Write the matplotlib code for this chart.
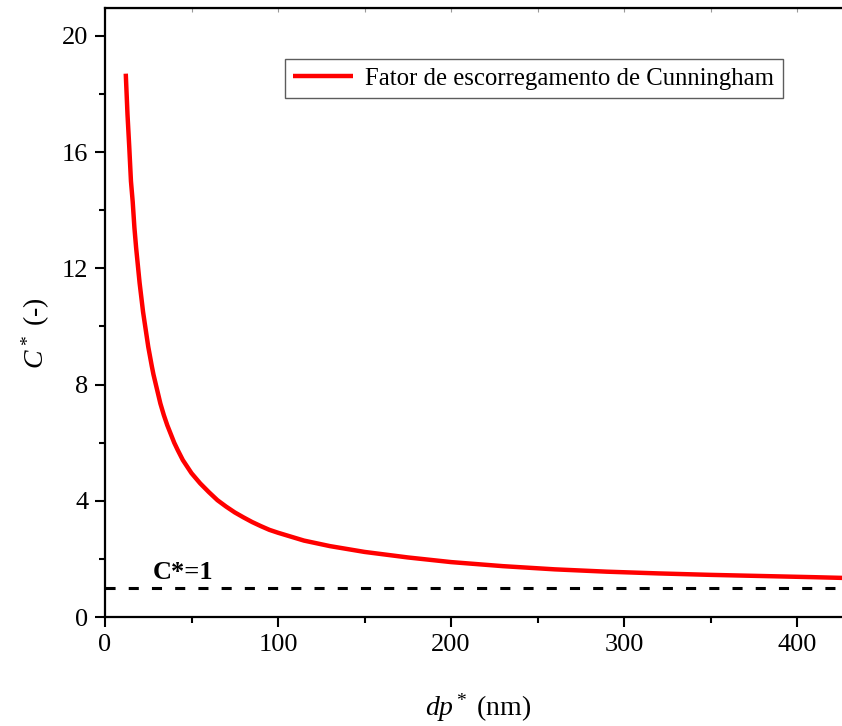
import matplotlib
matplotlib.use("Agg")
import matplotlib.pyplot as plt
from matplotlib.ticker import MultipleLocator

# Datos (diametro de particula em nm, fator de Cunningham)
dp = [12, 13, 14, 15, 16, 17, 18, 19, 20, 21, 22, 23, 25, 27, 28, 30, 32,
      34, 36, 38, 40, 42, 45, 50, 55, 60, 65, 70, 75, 80, 85, 90, 95,
      100, 115, 130, 150, 175, 200, 230, 260, 290, 320, 350, 380, 410, 430]
cc = [18.7, 17.3, 16.2, 15.0, 14.3, 13.4, 12.7, 12.1, 11.5, 11.0, 10.5,
      10.1, 9.3, 8.65, 8.35, 7.85, 7.35, 6.95, 6.6, 6.3, 6.0, 5.75, 5.4,
      4.95, 4.6, 4.3, 4.02, 3.8, 3.6, 3.43, 3.27, 3.13, 3.0, 2.9, 2.63,
      2.44, 2.24, 2.05, 1.89, 1.75, 1.64, 1.56, 1.5, 1.45, 1.41, 1.37, 1.34]
linha_ref = 1.0
legenda = "Fator de escorregamento de Cunningham"

plt.rcParams['font.family'] = ['Liberation Serif', 'DejaVu Serif']
plt.rcParams['mathtext.fontset'] = 'custom'
plt.rcParams['mathtext.rm'] = 'Liberation Serif'
plt.rcParams['mathtext.it'] = 'Liberation Serif:italic'

fig = plt.figure(figsize=(8.42, 7.26), dpi=100)
ax = fig.add_axes([105 / 842, 1 - 617 / 726, 737 / 842, 609 / 726])

ax.plot(dp, cc, color='#ff0000', lw=3.2, label=legenda, solid_capstyle='butt')
ax.axhline(linha_ref, color='black', lw=2.2, dashes=(3.3, 4.3))
ax.text(27.5, 1.3, "C*=1", fontsize=19, fontweight='bold')

ax.set_xlim(0, 426)
ax.set_ylim(0, 20.96)
ax.xaxis.set_major_locator(MultipleLocator(100))
ax.xaxis.set_minor_locator(MultipleLocator(50))
ax.yaxis.set_major_locator(MultipleLocator(4))
ax.yaxis.set_minor_locator(MultipleLocator(2))

ax.spines['right'].set_visible(False)
for s in ['left', 'bottom', 'top']:
    ax.spines[s].set_linewidth(1.6)
ax.tick_params(which='major', direction='out', length=7, width=1.5,
               labelsize=19, pad=5)
ax.tick_params(which='minor', direction='out', length=4, width=1.5)

# marcas internas no eixo superior
sec = ax.secondary_xaxis('top')
sec.xaxis.set_major_locator(MultipleLocator(100))
sec.xaxis.set_minor_locator(MultipleLocator(50))
sec.tick_params(which='both', direction='in', length=3, width=0.8,
                color='#999999', labeltop=False)

ax.set_xlabel(r'$dp^*$ (nm)', fontsize=20)
ax.xaxis.set_label_coords(0.506, -0.123)
ax.set_ylabel(r'$C^*$ (-)', fontsize=20)
ax.yaxis.set_label_coords(-0.072, 0.466)

leg = ax.legend(loc='upper left', bbox_to_anchor=(0.244, 0.917), fontsize=17.8,
                frameon=True, fancybox=False, handlelength=2.4,
                borderpad=0.35, handletextpad=0.5, borderaxespad=0)
leg.get_frame().set_edgecolor('#333333')
leg.get_frame().set_linewidth(1.0)

fig.savefig("out.png", dpi=100)
